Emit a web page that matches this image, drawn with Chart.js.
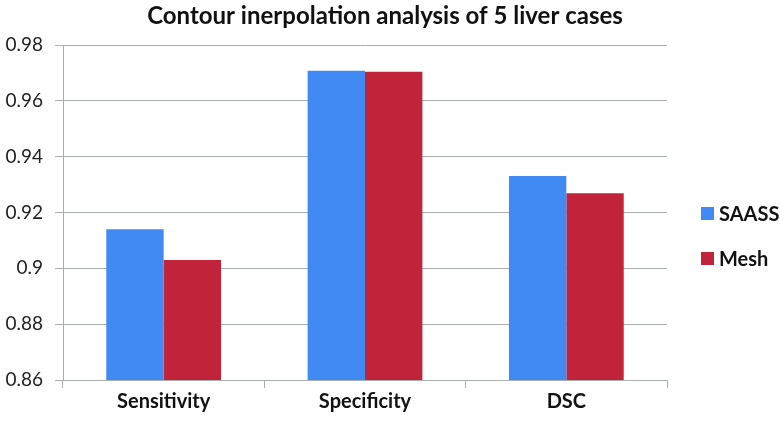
<!DOCTYPE html>
<html>
<head>
<meta charset="utf-8">
<script src="https://cdn.jsdelivr.net/npm/chart.js@4"></script>
<style>
  html, body { margin: 0; padding: 0; background: #fff; }
  #wrap { width: 780px; height: 429px; }
</style>
</head>
<body>
<div id="wrap"><canvas id="chart" width="780" height="429"></canvas></div>
<script>
// 資料
const categories = ['Sensitivity', 'Specificity', 'DSC'];
const saassValues = [0.914, 0.9708, 0.9331];
const meshValues = [0.903, 0.9704, 0.9269];
const seriesNames = ['SAASS', 'Mesh'];
const yTicks = [0.86, 0.88, 0.9, 0.92, 0.94, 0.96, 0.98];
const chartTitle = 'Contour inerpolation analysis of 5 liver cases';

const BLUE = '#4189f3';
const RED = '#c1243a';
const GRID = '#a9aeb0';
const FONT = 'Lato, "Open Sans", sans-serif';

// 標題 + 右側圖例（自己畫，標題置中於整張圖）
const titleAndLegend = {
  id: 'titleAndLegend',
  afterDraw(chart) {
    const ctx = chart.ctx;
    ctx.save();
    ctx.fillStyle = '#111';
    ctx.font = 'bold 24px ' + FONT;
    ctx.textAlign = 'center';
    ctx.textBaseline = 'middle';
    ctx.fillText(chartTitle, 385, 16);

    ctx.textAlign = 'left';
    ctx.font = 'bold 20px ' + FONT;
    const rows = [214, 259];
    chart.data.datasets.forEach((ds, i) => {
      const y = rows[i];
      ctx.fillStyle = ds.backgroundColor;
      ctx.fillRect(701, y - 7, 13, 13);
      ctx.fillStyle = '#111';
      ctx.fillText(ds.label, 719, y + 1);
    });
    ctx.restore();
  }
};

new Chart(document.getElementById('chart').getContext('2d'), {
  type: 'bar',
  data: {
    labels: categories,
    datasets: [
      { label: seriesNames[0], data: saassValues, backgroundColor: BLUE },
      { label: seriesNames[1], data: meshValues, backgroundColor: RED }
    ]
  },
  options: {
    responsive: false,
    animation: false,
    layout: { padding: { left: 0, right: 113, top: 45, bottom: 0 } },
    datasets: { bar: { categoryPercentage: 0.57, barPercentage: 1.0 } },
    plugins: {
      legend: { display: false },
      tooltip: { enabled: false },
      title: { display: false }
    },
    scales: {
      x: {
        grid: {
          offset: true,
          drawOnChartArea: false,
          drawTicks: true,
          tickLength: 8,
          color: GRID
        },
        border: { color: GRID },
        ticks: {
          color: '#111',
          padding: 2,
          font: { family: FONT, size: 20, weight: 'bold' }
        },
        afterFit(scale) { scale.height = 49; }
      },
      y: {
        min: 0.86,
        max: 0.98,
        afterBuildTicks(scale) { scale.ticks = yTicks.map(v => ({ value: v })); },
        grid: { color: GRID, tickLength: 8 },
        border: { color: GRID },
        ticks: {
          color: '#222',
          padding: 12,
          font: { family: FONT, size: 19 },
          callback: v => String(Math.round(v * 100) / 100)
        },
        afterFit(scale) { scale.width = 63; }
      }
    }
  },
  plugins: [titleAndLegend]
});
</script>
</body>
</html>
